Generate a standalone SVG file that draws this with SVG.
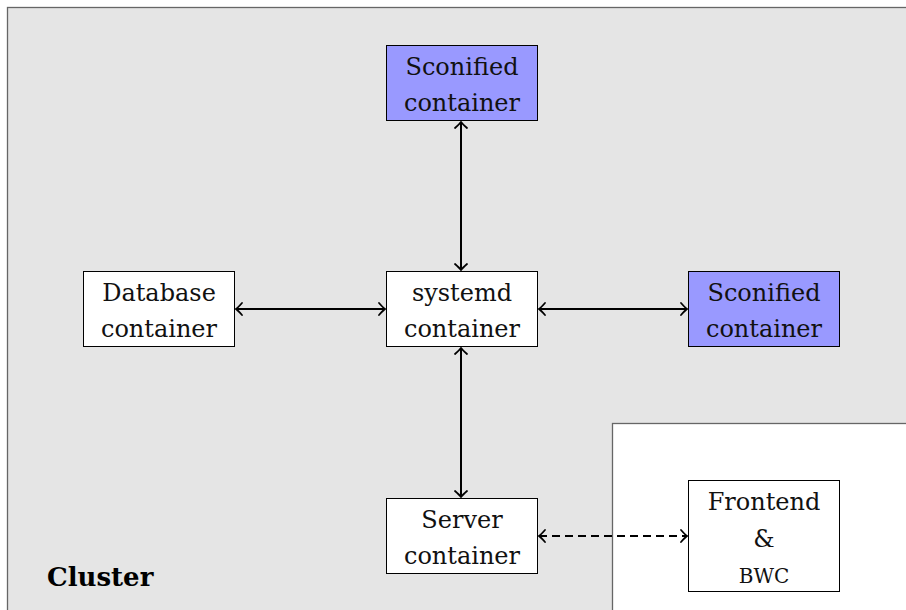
<svg xmlns="http://www.w3.org/2000/svg" width="906" height="610" viewBox="0 0 906 610">
  <defs>
    <marker id="tip" viewBox="-10 -8 12 16" refX="0" refY="0" markerWidth="12" markerHeight="16" markerUnits="userSpaceOnUse" orient="auto-start-reverse">
      <path d="M -6 -6 Q -2 -1.5 0 0 Q -2 1.5 -6 6" fill="none" stroke="#000" stroke-width="1.8" stroke-linecap="round"/>
    </marker>
  </defs>
  <style>
    .cluster { fill: #e5e5e5; stroke: #666; stroke-width: 1.3; }
    .zone { fill: #fff; stroke: #666; stroke-width: 1.3; }
    .box { fill: #fff; stroke: #000; stroke-width: 1; }
    .scone { fill: #9999ff; stroke: #000; stroke-width: 1; }
    .lbl { font-family: "DejaVu Serif", serif; font-size: 24px; fill: #111; text-anchor: middle; }
    .title { font-family: "DejaVu Serif", serif; font-size: 26px; font-weight: bold; fill: #000; }
    .edge { fill: none; stroke: #000; stroke-width: 2; marker-start: url(#tip); marker-end: url(#tip); }
    .dashed { stroke-dasharray: 8 5; }
  </style>

  <!-- cluster background and outside zone -->
  <rect class="cluster" x="7.5" y="7.5" width="920" height="620"/>
  <rect class="zone" x="612.5" y="423.5" width="320" height="200"/>
  <text class="title" x="47" y="586">Cluster</text>

  <!-- connectors -->
  <g id="connectors">
    <line class="edge" x1="461" y1="122" x2="461" y2="270"/>
    <line class="edge" x1="461" y1="348" x2="461" y2="497"/>
    <line class="edge" x1="236" y1="309" x2="385" y2="309"/>
    <line class="edge" x1="539" y1="309" x2="687" y2="309"/>
    <line class="edge dashed" x1="539" y1="536" x2="687" y2="536"/>
  </g>

  <!-- nodes -->
  <g id="sconified-top">
    <rect class="scone" x="386.5" y="45.5" width="151" height="75"/>
    <text class="lbl" x="462" y="75">Sconified</text>
    <text class="lbl" x="462" y="111">container</text>
  </g>
  <g id="database">
    <rect class="box" x="83.5" y="271.5" width="151" height="75"/>
    <text class="lbl" x="159" y="301">Database</text>
    <text class="lbl" x="159" y="337">container</text>
  </g>
  <g id="systemd">
    <rect class="box" x="386.5" y="271.5" width="151" height="75"/>
    <text class="lbl" x="462" y="301">systemd</text>
    <text class="lbl" x="462" y="337">container</text>
  </g>
  <g id="sconified-right">
    <rect class="scone" x="688.5" y="271.5" width="151" height="75"/>
    <text class="lbl" x="764" y="301">Sconified</text>
    <text class="lbl" x="764" y="337">container</text>
  </g>
  <g id="server">
    <rect class="box" x="386.5" y="498.5" width="151" height="75"/>
    <text class="lbl" x="462" y="528">Server</text>
    <text class="lbl" x="462" y="564">container</text>
  </g>
  <g id="frontend">
    <rect class="box" x="688.5" y="480.5" width="151" height="111"/>
    <text class="lbl" x="764" y="510">Frontend</text>
    <text class="lbl" x="764" y="547">&amp;</text>
    <text class="lbl" x="764" y="583" style="font-size:20px">BWC</text>
  </g>
</svg>
